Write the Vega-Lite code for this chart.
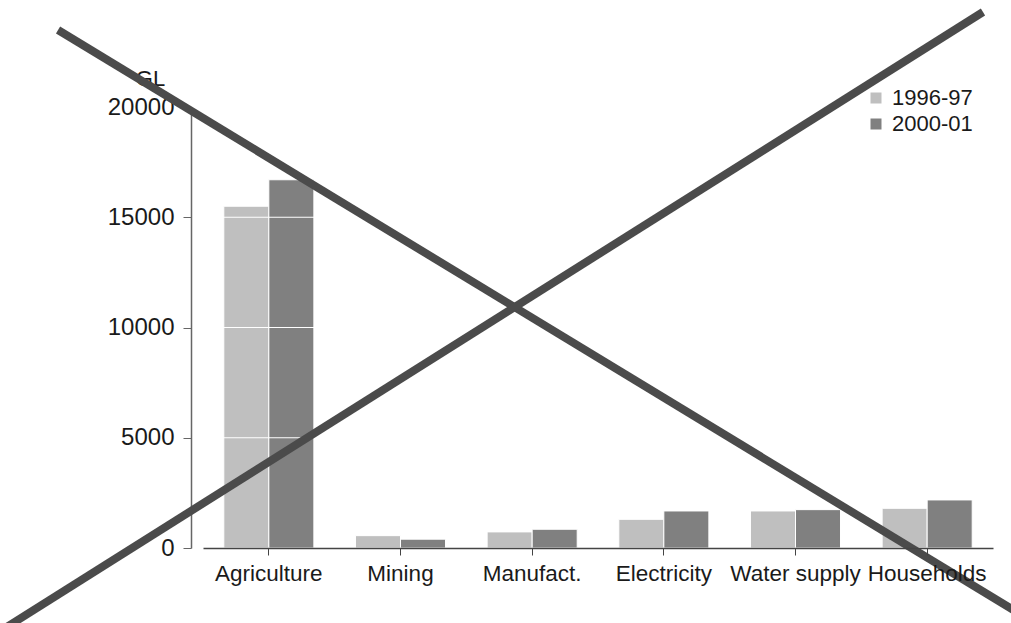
{
  "$schema": "https://vega.github.io/schema/vega-lite/v6.json",
  "width": 790,
  "height": 441,
  "autosize": {"type": "none"},
  "padding": {"left": 203, "top": 107, "right": 18, "bottom": 75},
  "background": "white",
  "config": {
    "view": {"stroke": null},
    "font": "Liberation Sans",
    "axis": {"labelFont": "Liberation Sans", "titleFont": "Liberation Sans"},
    "legend": {"labelFont": "Liberation Sans"}
  },
  "datasets": {
    "water": [
      {"sector": "Agriculture", "year": "1996-97", "gl": 15500},
      {"sector": "Agriculture", "year": "2000-01", "gl": 16700},
      {"sector": "Mining", "year": "1996-97", "gl": 560},
      {"sector": "Mining", "year": "2000-01", "gl": 400},
      {"sector": "Manufact.", "year": "1996-97", "gl": 730},
      {"sector": "Manufact.", "year": "2000-01", "gl": 850},
      {"sector": "Electricity", "year": "1996-97", "gl": 1300},
      {"sector": "Electricity", "year": "2000-01", "gl": 1680},
      {"sector": "Water supply", "year": "1996-97", "gl": 1680},
      {"sector": "Water supply", "year": "2000-01", "gl": 1740},
      {"sector": "Households", "year": "1996-97", "gl": 1800},
      {"sector": "Households", "year": "2000-01", "gl": 2180}
    ],
    "grid": [
      {"gl": 5000},
      {"gl": 10000},
      {"gl": 15000}
    ],
    "cross": [
      {"line": "a", "px": -1.101, "py": 23492},
      {"line": "a", "px": 6.281, "py": -3265},
      {"line": "b", "px": -1.618, "py": -4063},
      {"line": "b", "px": 5.924, "py": 24308}
    ]
  },
  "layer": [
    {
      "data": {"name": "water"},
      "mark": {"type": "bar", "stroke": "white", "strokeWidth": 1},
      "encoding": {
        "x": {
          "field": "sector",
          "type": "nominal",
          "sort": ["Agriculture", "Mining", "Manufact.", "Electricity", "Water supply", "Households"],
          "scale": {"paddingInner": 0.316, "paddingOuter": 0.158},
          "axis": {
            "title": null,
            "labelAngle": 0,
            "labelFontSize": 22.5,
            "labelColor": "#1a1a1a",
            "labelPadding": 7,
            "tickSize": 7,
            "tickColor": "#444444",
            "domainColor": "#444444",
            "domainWidth": 1.5,
            "zindex": 2
          }
        },
        "xOffset": {"field": "year", "type": "nominal", "scale": {"paddingInner": 0.0}},
        "y": {
          "field": "gl",
          "type": "quantitative",
          "scale": {"domain": [0, 20000], "nice": false},
          "axis": {
            "title": "GL",
            "titleAngle": 0,
            "titleFontSize": 22,
            "titleFontWeight": "normal",
            "titleColor": "#1a1a1a",
            "titleX": -41,
            "titleY": -22,
            "titleAlign": "center",
            "titleBaseline": "alphabetic",
            "values": [0, 5000, 10000, 15000, 20000],
            "format": "d",
            "labelFontSize": 24,
            "labelColor": "#1a1a1a",
            "labelPadding": 9,
            "tickSize": 8,
            "tickColor": "#666666",
            "domainColor": "#666666",
            "domainWidth": 1.5,
            "offset": 12,
            "grid": false
          }
        },
        "color": {
          "field": "year",
          "type": "nominal",
          "scale": {"domain": ["1996-97", "2000-01"], "range": ["#bfbfbf", "#808080"]},
          "legend": {
            "title": null,
            "orient": "none",
            "legendX": 662,
            "legendY": -20,
            "padding": 0,
            "symbolType": "square",
            "symbolSize": 121,
            "symbolStrokeWidth": 0,
            "labelFontSize": 22,
            "labelColor": "#1a1a1a",
            "labelOffset": 5,
            "rowPadding": 4
          }
        }
      }
    },
    {
      "data": {"name": "grid"},
      "mark": {"type": "rule", "color": "white", "strokeWidth": 1.2},
      "encoding": {
        "y": {"field": "gl", "type": "quantitative"}
      }
    },
    {
      "data": {"name": "cross"},
      "mark": {"type": "line", "color": "#4b4b4b", "strokeWidth": 8, "strokeCap": "butt", "clip": false},
      "encoding": {
        "x": {"field": "px", "type": "quantitative", "scale": {"domain": [0, 6], "nice": false, "zero": false}, "axis": null},
        "y": {"field": "py", "type": "quantitative"},
        "detail": {"field": "line", "type": "nominal"}
      }
    }
  ],
  "resolve": {"scale": {"x": "independent"}, "axis": {"x": "independent"}}
}
